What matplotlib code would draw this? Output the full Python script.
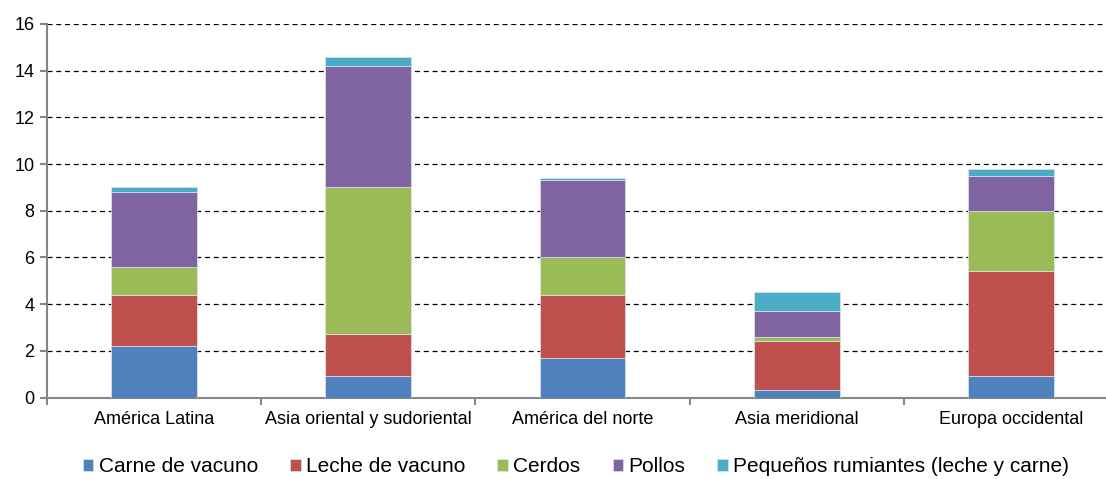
import numpy as np
import matplotlib
matplotlib.use('Agg')
import matplotlib.pyplot as plt

# Regions and livestock categories.
regiones = ['América Latina', 'Asia oriental y sudoriental', 'América del norte',
            'Asia meridional', 'Europa occidental']
especies = ['Carne de vacuno', 'Leche de vacuno', 'Cerdos', 'Pollos',
            'Pequeños rumiantes (leche y carne)']

# Values per region for each category (stacked).
carne_vacuno = [2.2, 0.9, 1.7, 0.3, 0.9]
leche_vacuno = [2.2, 1.8, 2.7, 2.1, 4.5]
cerdos = [1.2, 6.3, 1.6, 0.2, 2.6]
pollos = [3.2, 5.2, 3.3, 1.1, 1.5]
pequenos_rumiantes = [0.2, 0.4, 0.1, 0.8, 0.3]

series = [carne_vacuno, leche_vacuno, cerdos, pollos, pequenos_rumiantes]
colores = ['#4F81BD', '#C0504D', '#9BBB59', '#8064A2', '#4BACC6']

plt.rcParams['font.family'] = ['Liberation Sans', 'DejaVu Sans']

fig = plt.figure(figsize=(11.06, 4.79), dpi=100)
ax = fig.add_axes([47 / 1106, (479 - 397.5) / 479, 1071 / 1106, 373.5 / 479])

x = np.arange(len(regiones))
base = np.zeros(len(regiones))
for vals, col, lab in zip(series, colores, especies):
    ax.bar(x, vals, width=0.4, bottom=base, color=col, label=lab,
           edgecolor='#dde6f0', linewidth=0.5, zorder=3)
    base += np.array(vals)

# Axis formatting.
ax.set_xlim(-0.5, len(regiones) - 0.5)
ax.set_ylim(0, 16)
ax.set_yticks(np.arange(0, 17, 2))
ax.yaxis.grid(True, color='black', linestyle=(0, (4, 3)), linewidth=0.9, zorder=0)
ax.set_axisbelow(True)

ax.set_xticks(np.arange(-0.5, len(regiones), 1.0))
ax.set_xticklabels([])
ax.set_xticks(x, minor=True)
ax.set_xticklabels(regiones, minor=True)
ax.tick_params(axis='x', which='minor', length=0, pad=10, labelsize=13)
ax.tick_params(axis='x', which='major', length=5, width=1.5, color='#868686', direction='out')
ax.tick_params(axis='y', length=5, width=1.5, color='#868686', labelsize=13, pad=4)

for side in ['top', 'right']:
    ax.spines[side].set_visible(False)
for side in ['left', 'bottom']:
    ax.spines[side].set_color('#868686')
    ax.spines[side].set_linewidth(1.5)

fig.legend(loc='center', bbox_to_anchor=(576 / 1106, (479 - 467) / 479), ncol=5, frameon=False,
           fontsize=15, handlelength=0.5, handleheight=0.55, handletextpad=0.25,
           columnspacing=1.55, borderaxespad=0)

plt.savefig('out.png', dpi=100)
plt.close()
